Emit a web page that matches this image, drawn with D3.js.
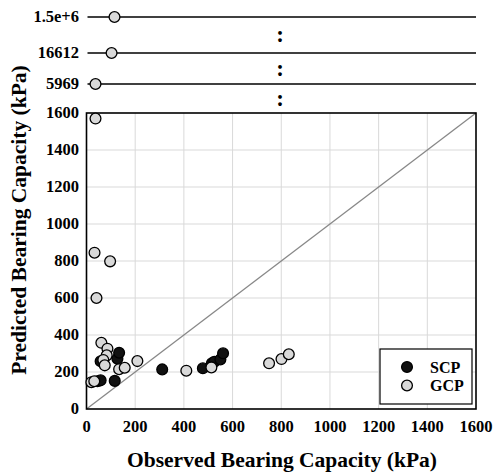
<!DOCTYPE html>
<html>
<head>
<meta charset="utf-8">
<script src="https://cdn.jsdelivr.net/npm/d3@7.9.0/dist/d3.min.js"></script>
<style>
  body { margin: 0; background: #fff; }
  svg text { font-family: "Liberation Serif", "Times New Roman", serif; font-weight: bold; fill: #000; }
</style>
</head>
<body>
<svg id="chart" width="494" height="476"></svg>
<script>
// SCP (stone columns) - observed vs predicted, kPa
const scpObs  = [45, 58, 116, 58, 127, 134, 311, 478, 515, 525, 550, 561];
const scpPred = [150, 155, 152, 258, 272, 304, 214, 220, 247, 255, 268, 301];

// GCP (geotextile encased columns)
const gcpObs  = [37, 33, 97, 41, 61, 86, 83, 69, 75, 134, 157, 209, 20, 32, 410, 513, 750, 801, 831];
const gcpPred = [1570, 845, 798, 600, 358, 326, 290, 265, 236, 215, 223, 259, 145, 150, 207, 225, 247, 270, 296];

// off-scale GCP predictions, drawn on broken rows above the plot
const breakLabels = ["5969", "16612", "1.5e+6"];
const breakObs = [37, 103, 115];

const ticks = [0, 200, 400, 600, 800, 1000, 1200, 1400, 1600];

const svg = d3.select("#chart");
const pLeft = 86.5, pRight = 476, pTop = 113, pBottom = 409;

const x = d3.scaleLinear().domain([0, 1600]).range([pLeft, pRight]);
const y = d3.scaleLinear().domain([0, 1600]).range([pBottom, pTop]);
const yBreak = d3.scaleOrdinal().domain(breakLabels).range([84, 53, 17]);

// grid
svg.append("g")
  .selectAll("line")
  .data(ticks.slice(1, -1))
  .join("line")
  .attr("x1", d => x(d)).attr("x2", d => x(d))
  .attr("y1", pTop).attr("y2", pBottom)
  .attr("stroke", "#d9d9d9").attr("stroke-width", 1);
svg.append("g")
  .selectAll("line")
  .data(ticks.slice(1, -1))
  .join("line")
  .attr("y1", d => y(d)).attr("y2", d => y(d))
  .attr("x1", pLeft).attr("x2", pRight)
  .attr("stroke", "#d9d9d9").attr("stroke-width", 1);

// 1:1 line
svg.append("line")
  .attr("x1", x(0)).attr("y1", y(0))
  .attr("x2", x(1600)).attr("y2", y(1600))
  .attr("stroke", "#888").attr("stroke-width", 1.3);

// frame
svg.append("rect")
  .attr("x", pLeft).attr("y", pTop)
  .attr("width", pRight - pLeft).attr("height", pBottom - pTop)
  .attr("fill", "none").attr("stroke", "#000").attr("stroke-width", 1.6);

// axes labels
svg.append("g")
  .selectAll("text")
  .data(ticks)
  .join("text")
  .attr("x", d => x(d)).attr("y", 432)
  .attr("text-anchor", "middle")
  .style("font-size", "16.5px")
  .text(d => d);
svg.append("g")
  .selectAll("text")
  .data(ticks)
  .join("text")
  .attr("x", 79).attr("y", d => y(d) + 5)
  .attr("text-anchor", "end")
  .style("font-size", "16.5px")
  .text(d => d);

// broken rows
const rows = svg.append("g");
rows.selectAll("line")
  .data(breakLabels)
  .join("line")
  .attr("x1", pLeft + 1).attr("x2", pRight)
  .attr("y1", d => yBreak(d)).attr("y2", d => yBreak(d))
  .attr("stroke", "#000").attr("stroke-width", 1.5);
rows.selectAll("text.lbl")
  .data(breakLabels)
  .join("text")
  .attr("class", "lbl")
  .attr("x", 79).attr("y", d => yBreak(d) + 5)
  .attr("text-anchor", "end")
  .style("font-size", "16.5px")
  .text(d => d);
// colons between rows
const gaps = [(pTop + yBreak("5969")) / 2, (yBreak("5969") + yBreak("16612")) / 2, (yBreak("16612") + yBreak("1.5e+6")) / 2];
rows.selectAll("text.colon")
  .data(gaps)
  .join("text")
  .attr("class", "colon")
  .attr("x", 280).attr("y", d => d + 7)
  .attr("text-anchor", "middle")
  .style("font-size", "23px")
  .text(":");
rows.selectAll("circle")
  .data(breakLabels)
  .join("circle")
  .attr("cx", (d, i) => x(breakObs[i]))
  .attr("cy", d => yBreak(d))
  .attr("r", 5.4)
  .attr("fill", "#d9d9d9").attr("stroke", "#000").attr("stroke-width", 1.3);

// points
const scp = scpObs.map((o, i) => ({ o, p: scpPred[i] }));
const gcp = gcpObs.map((o, i) => ({ o, p: gcpPred[i] }));

svg.append("g")
  .selectAll("circle")
  .data(scp)
  .join("circle")
  .attr("cx", d => x(d.o)).attr("cy", d => y(d.p))
  .attr("r", 5.4)
  .attr("fill", "#111").attr("stroke", "#000").attr("stroke-width", 1.3);
svg.append("g")
  .selectAll("circle")
  .data(gcp)
  .join("circle")
  .attr("cx", d => x(d.o)).attr("cy", d => y(d.p))
  .attr("r", 5.4)
  .attr("fill", "#d9d9d9").attr("stroke", "#000").attr("stroke-width", 1.3);

// legend
const lg = svg.append("g").attr("transform", "translate(380,349)");
lg.append("rect")
  .attr("width", 92).attr("height", 55)
  .attr("fill", "#fff").attr("stroke", "#000").attr("stroke-width", 1.2);
const legendItems = [
  { name: "SCP", fill: "#111" },
  { name: "GCP", fill: "#d9d9d9" }
];
legendItems.forEach((d, i) => {
  lg.append("circle")
    .attr("cx", 27).attr("cy", 18 + i * 18.5)
    .attr("r", 5.4)
    .attr("fill", d.fill).attr("stroke", "#000").attr("stroke-width", 1.3);
  lg.append("text")
    .attr("x", 50).attr("y", 23.5 + i * 18.5)
    .style("font-size", "16px")
    .text(d.name);
});

// titles
svg.append("text")
  .attr("x", 282).attr("y", 467)
  .attr("text-anchor", "middle")
  .style("font-size", "21.5px")
  .text("Observed Bearing Capacity (kPa)");
svg.append("text")
  .attr("transform", "translate(26,220) rotate(-90)")
  .attr("text-anchor", "middle")
  .style("font-size", "21.5px")
  .text("Predicted Bearing Capacity (kPa)");
</script>
</body>
</html>
